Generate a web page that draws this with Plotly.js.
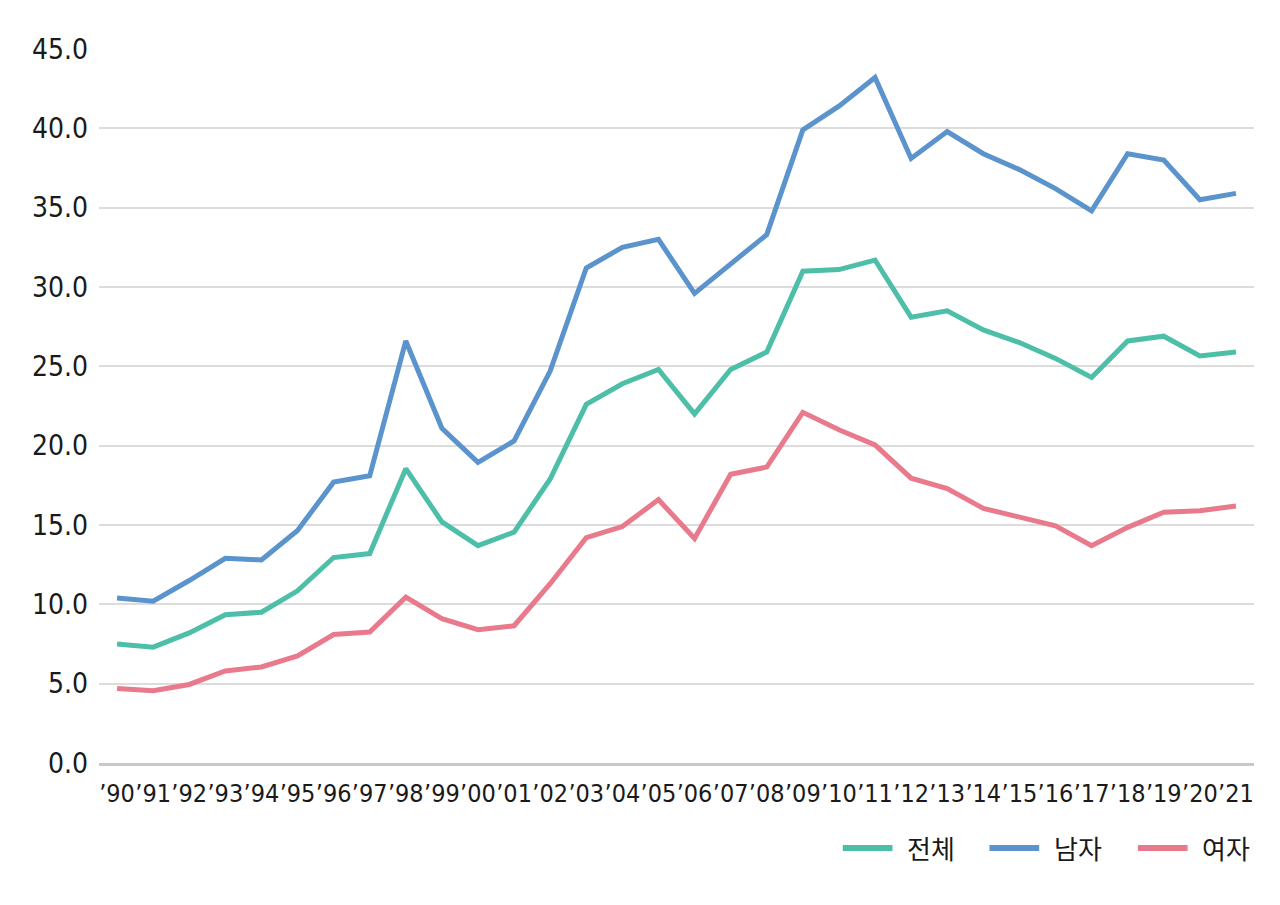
<!DOCTYPE html>
<html>
<head>
<meta charset="utf-8">
<script src="https://cdn.plot.ly/plotly-3.0.1.min.js"></script>
<style>
  html, body { margin: 0; padding: 0; background: #ffffff; }
  #chart { width: 1280px; height: 905px; }
</style>
</head>
<body>
<div id="chart"></div>
<script>
const years = ["’90","’91","’92","’93","’94","’95","’96","’97","’98","’99","’00","’01","’02","’03","’04","’05","’06","’07","’08","’09","’10","’11","’12","’13","’14","’15","’16","’17","’18","’19","’20","’21"];
const total = [7.5, 7.3, 8.2, 9.35, 9.5, 10.85, 12.95, 13.2, 18.55, 15.2, 13.7, 14.55, 17.9, 22.6, 23.9, 24.8, 22.0, 24.8, 25.9, 31.0, 31.1, 31.7, 28.1, 28.5, 27.3, 26.5, 25.5, 24.3, 26.6, 26.9, 25.65, 25.9];
const male = [10.4, 10.2, 11.5, 12.9, 12.8, 14.65, 17.7, 18.1, 26.6, 21.1, 18.95, 20.3, 24.7, 31.2, 32.5, 33.0, 29.6, 31.5, 33.3, 39.9, 41.4, 43.2, 38.1, 39.8, 38.4, 37.4, 36.2, 34.8, 38.4, 38.0, 35.5, 35.9];
const female = [4.7, 4.55, 4.95, 5.8, 6.05, 6.75, 8.1, 8.25, 10.45, 9.1, 8.4, 8.65, 11.3, 14.2, 14.9, 16.6, 14.15, 18.2, 18.65, 22.1, 21.0, 20.05, 17.95, 17.3, 16.05, 15.5, 14.95, 13.7, 14.85, 15.8, 15.9, 16.2];
const seriesNames = ["전체", "남자", "여자"];
const yTicks = [0, 5, 10, 15, 20, 25, 30, 35, 40, 45];

const colors = ["#4dbfa9", "#5b93cc", "#e87a8c"];
const data = [total, male, female].map((vals, i) => ({
  type: "scatter",
  mode: "lines",
  x: years,
  y: vals,
  name: seriesNames[i],
  line: { color: colors[i], width: 5 },
  hoverinfo: "skip",
  showlegend: false
}));

// Custom legend (paper coordinates) to match the long legend swatches
const legendStarts = [0.644, 0.771, 0.8995];
const legendY = -0.119;
const shapes = seriesNames.map((n, i) => ({
  type: "line", xref: "paper", yref: "paper",
  x0: legendStarts[i], x1: legendStarts[i] + 0.043, y0: legendY, y1: legendY,
  line: { color: colors[i], width: 6 }
}));
const annotations = seriesNames.map((n, i) => ({
  xref: "paper", yref: "paper",
  x: legendStarts[i] + 0.054, y: legendY,
  xanchor: "left", yanchor: "middle",
  text: n, showarrow: false,
  font: { family: "Noto Sans CJK KR, sans-serif", size: 26, color: "#1a1a1a" }
}));

const numFont = { family: "DejaVu Sans Condensed, DejaVu Sans, sans-serif", stretch: "condensed", size: 25, color: "#1a1a1a" };

const layout = {
  width: 1280,
  height: 905,
  paper_bgcolor: "#ffffff",
  plot_bgcolor: "#ffffff",
  margin: { l: 99, r: 26, t: 49, b: 142 },
  showlegend: false,
  shapes: shapes,
  annotations: annotations,
  xaxis: {
    type: "category",
    range: [-0.5, years.length - 0.5],
    showgrid: false,
    zeroline: false,
    showline: true,
    linecolor: "#c8c8c8",
    linewidth: 3,
    ticks: "",
    tickangle: 0,
    tickfont: numFont,
    ticklabelstandoff: 6,
    fixedrange: true
  },
  yaxis: {
    range: [0, 45],
    tickvals: yTicks,
    ticktext: yTicks.map(v => v.toFixed(1)),
    showgrid: true,
    gridcolor: "#dcdcdc",
    gridwidth: 2,
    zeroline: false,
    showline: false,
    ticks: "",
    tickfont: Object.assign({}, numFont, { size: 28 }),
    ticklabelstandoff: 10,
    fixedrange: true
  }
};

Plotly.newPlot("chart", data, layout, { displayModeBar: false, staticPlot: true });
</script>
</body>
</html>
